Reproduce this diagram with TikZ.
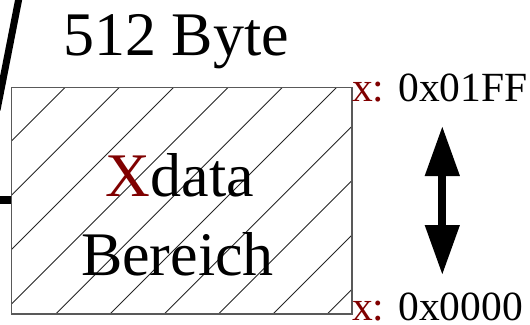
\documentclass[tikz,border=0pt]{standalone}
\usepackage{fontspec}
\setmainfont{Liberation Serif}
\usetikzlibrary{arrows.meta}
\definecolor{xred}{RGB}{128,0,0}
\tikzset{
  bigtext/.style={inner sep=0pt, font=\fontsize{62}{74}\selectfont},
  addrtext/.style={inner sep=0pt, anchor=base west, font=\fontsize{41.5}{50}\selectfont},
  hatchline/.style={line width=0.9pt, black!85},
  boxframe/.style={line width=1.1pt, black!65},
  thickbar/.style={line width=7pt, line cap=butt},
  dblarrow/.style={line width=7.7pt, {Triangle[length=50pt,width=33pt]}-{Triangle[length=50pt,width=33pt]}}
}
\begin{document}
\begin{tikzpicture}[x=1pt,y=-1pt]
\useasboundingbox (0,0) rectangle (530,324);
\clip (0,0) rectangle (530,324);
% partial thick lines from the surrounding figure
\draw[thickbar] (22.5,-20) -- (-3,110);
\draw[line width=8pt] (-2,200) -- (11.5,200);
% hatched area
\coordinate (bl) at (11.5,314);
\coordinate (tr) at (352,87.5);
\begin{scope}
  \clip (bl) rectangle (tr);
  \foreach \c in {152.5,206.8,261.1,315.4,369.7,424,478.3,532.6,586.9,641.2}{
    \draw[hatchline] (\c-400,400) -- (\c,0);
  }
\end{scope}
\draw[boxframe] (bl) rectangle (tr);
% texts
\node[bigtext, anchor=base west] (size) at (63,55) {512 Byte};
\node[bigtext, anchor=base] (xdata) at (180,196) {\textcolor{xred}{X}data};
\node[bigtext, anchor=base] (ber) at (177.5,275) {Bereich};
\node[addrtext] (hi) at (352,101.7) {\textcolor{xred}{x:} 0x01FF};
\node[addrtext] (lo) at (352,320) {\textcolor{xred}{x:} 0x0000};
% arrow
\coordinate (atop) at (442.3,126);
\coordinate (abot) at (442.3,275);
\draw[dblarrow] (atop) -- (abot);
\end{tikzpicture}
\end{document}
